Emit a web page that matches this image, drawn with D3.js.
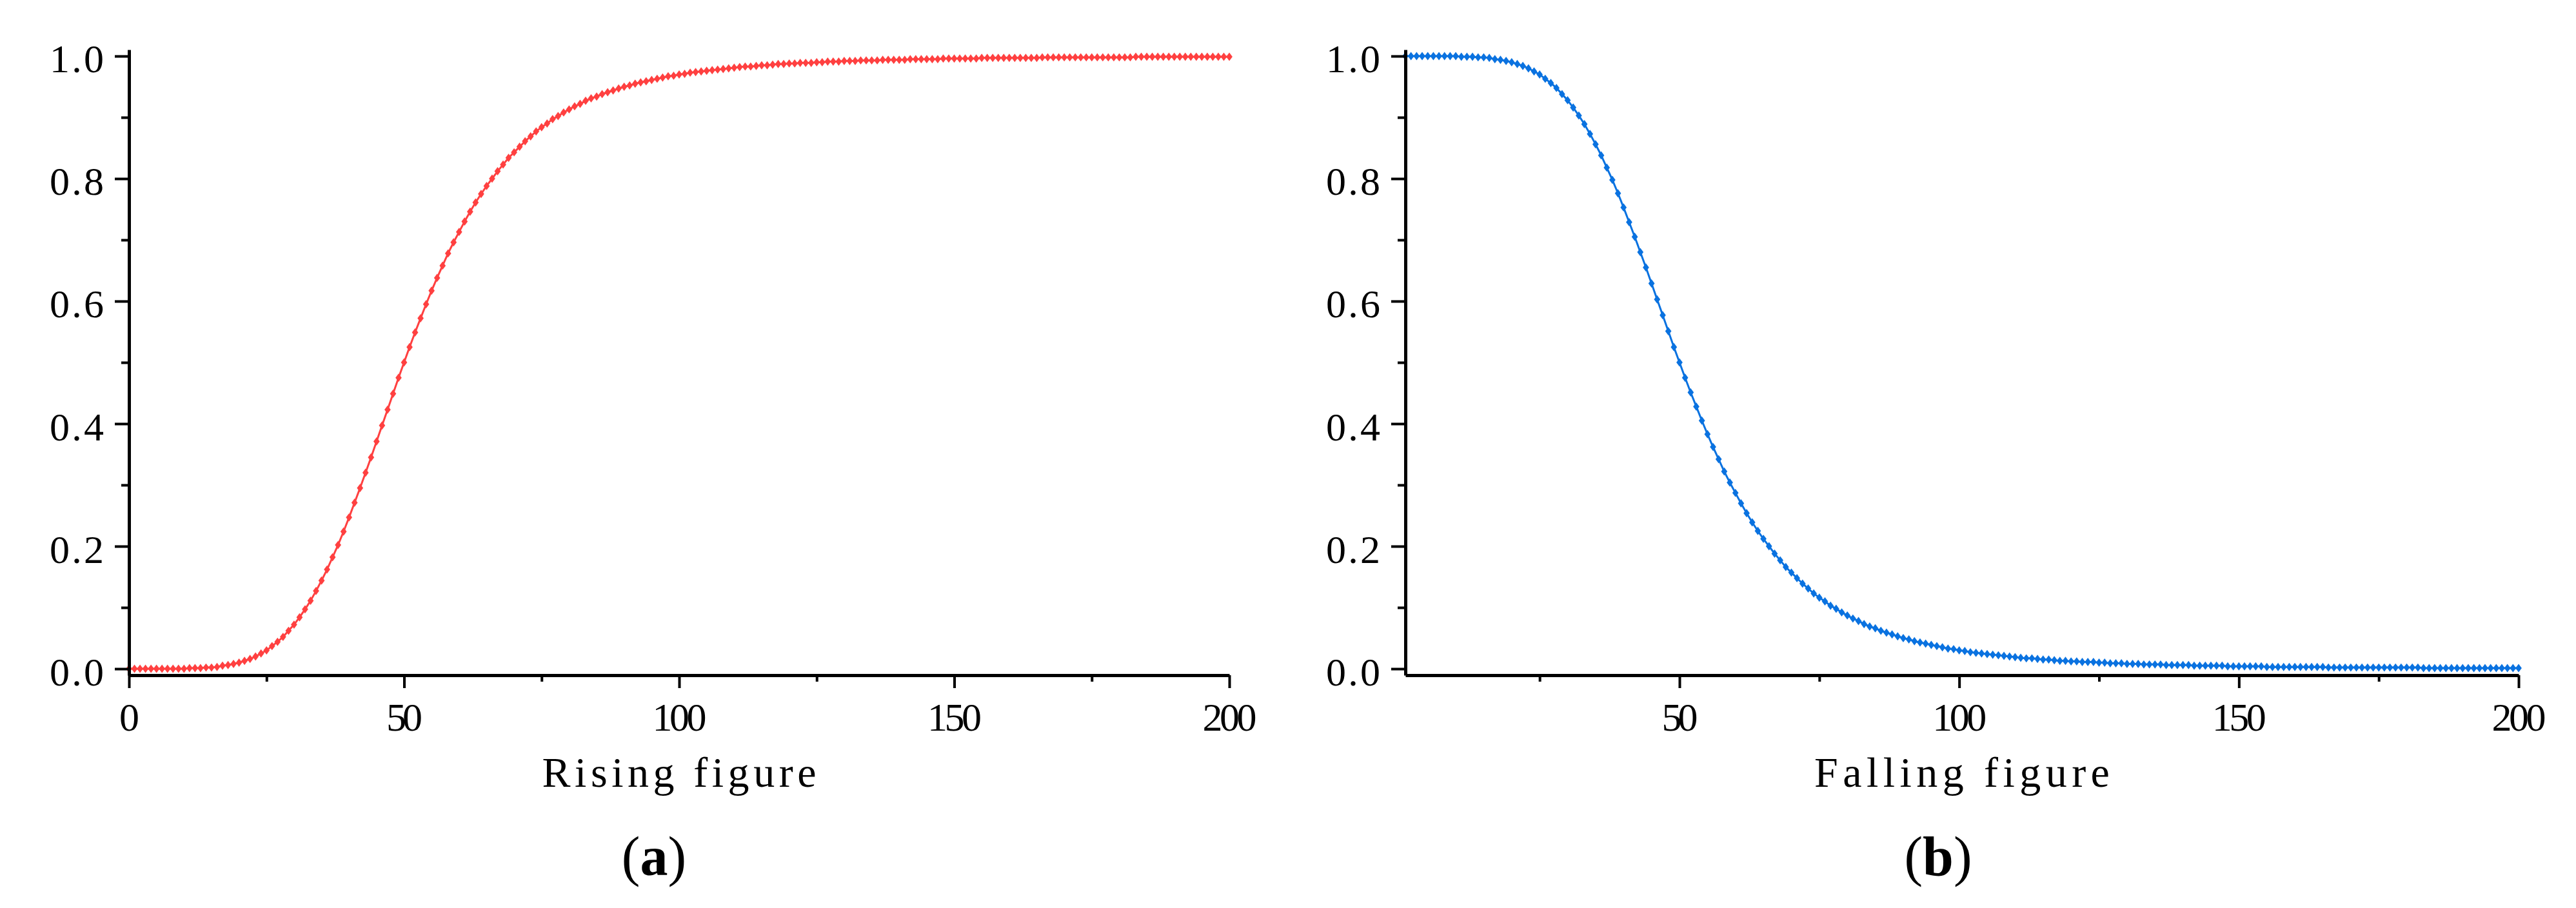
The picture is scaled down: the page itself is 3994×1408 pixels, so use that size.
<!DOCTYPE html>
<html>
<head>
<meta charset="utf-8">
<script src="https://cdn.jsdelivr.net/npm/d3@7"></script>
<style>
  body { margin: 0; background: #fff; }
  text { font-family: "Liberation Serif", "DejaVu Serif", serif; fill: #000; }
</style>
</head>
<body>
<svg class="figsvg" width="3994" height="1408"></svg>
<script>
// rising curve, read at every x from 0 to 200
var risingX = d3.range(0, 201);
var risingY = [
 0.000,0.000,0.000,0.000,0.000,0.000,0.000,0.000,0.000,0.000,0.000,
 0.001,0.001,0.001,0.002,0.002,0.003,0.005,0.006,0.008,0.010,
 0.013,0.016,0.020,0.025,0.030,0.037,0.044,0.052,0.062,0.072,
 0.084,0.097,0.111,0.127,0.144,0.162,0.182,0.202,0.224,0.247,
 0.271,0.295,0.320,0.345,0.371,0.397,0.423,0.449,0.475,0.500,
 0.525,0.549,0.572,0.595,0.617,0.638,0.658,0.678,0.696,0.713,
 0.730,0.746,0.761,0.775,0.788,0.800,0.812,0.823,0.834,0.843,
 0.852,0.861,0.869,0.877,0.884,0.890,0.897,0.902,0.908,0.913,
 0.918,0.922,0.927,0.931,0.934,0.938,0.941,0.944,0.947,0.950,
 0.952,0.955,0.957,0.959,0.961,0.963,0.965,0.967,0.968,0.970,
 0.971,0.973,0.974,0.975,0.976,0.977,0.978,0.979,0.980,0.981,
 0.982,0.983,0.983,0.984,0.985,0.985,0.986,0.987,0.987,0.988,
 0.988,0.989,0.989,0.989,0.990,0.990,0.991,0.991,0.991,0.992,
 0.992,0.992,0.993,0.993,0.993,0.993,0.994,0.994,0.994,0.994,
 0.994,0.995,0.995,0.995,0.995,0.995,0.995,0.996,0.996,0.996,
 0.996,0.996,0.996,0.996,0.997,0.997,0.997,0.997,0.997,0.997,
 0.997,0.997,0.997,0.997,0.997,0.998,0.998,0.998,0.998,0.998,
 0.998,0.998,0.998,0.998,0.998,0.998,0.998,0.998,0.998,0.998,
 0.998,0.998,0.999,0.999,0.999,0.999,0.999,0.999,0.999,0.999,
 0.999,0.999,0.999,0.999,0.999,0.999,0.999,0.999,0.999,0.999
];

// falling curve, read at every x from 1 to 200
var fallingX = d3.range(1, 201);
var fallingY = [
 1.000,1.000,1.000,1.000,1.000,1.000,1.000,1.000,1.000,1.000,
 0.999,0.999,0.999,0.998,0.998,0.997,0.995,0.994,0.992,0.990,
 0.987,0.984,0.980,0.975,0.970,0.963,0.956,0.948,0.938,0.928,
 0.916,0.903,0.889,0.873,0.856,0.838,0.818,0.798,0.776,0.753,
 0.729,0.705,0.680,0.655,0.629,0.603,0.577,0.551,0.525,0.500,
 0.475,0.451,0.428,0.405,0.383,0.362,0.342,0.322,0.304,0.287,
 0.270,0.254,0.239,0.225,0.212,0.200,0.188,0.177,0.166,0.157,
 0.148,0.139,0.131,0.123,0.116,0.110,0.103,0.098,0.092,0.087,
 0.082,0.078,0.073,0.069,0.066,0.062,0.059,0.056,0.053,0.050,
 0.048,0.045,0.043,0.041,0.039,0.037,0.035,0.033,0.032,0.030,
 0.029,0.027,0.026,0.025,0.024,0.023,0.022,0.021,0.020,0.019,
 0.018,0.017,0.017,0.016,0.015,0.015,0.014,0.013,0.013,0.012,
 0.012,0.011,0.011,0.011,0.010,0.010,0.009,0.009,0.009,0.008,
 0.008,0.008,0.007,0.007,0.007,0.007,0.006,0.006,0.006,0.006,
 0.006,0.005,0.005,0.005,0.005,0.005,0.005,0.004,0.004,0.004,
 0.004,0.004,0.004,0.004,0.003,0.003,0.003,0.003,0.003,0.003,
 0.003,0.003,0.003,0.003,0.003,0.002,0.002,0.002,0.002,0.002,
 0.002,0.002,0.002,0.002,0.002,0.002,0.002,0.002,0.002,0.002,
 0.002,0.002,0.001,0.001,0.001,0.001,0.001,0.001,0.001,0.001,
 0.001,0.001,0.001,0.001,0.001,0.001,0.001,0.001,0.001,0.001
];

var yTicks = [0, 0.2, 0.4, 0.6, 0.8, 1.0];
var yMinor = [0.1, 0.3, 0.5, 0.7, 0.9];
var xTicksA = [0, 50, 100, 150, 200];
var xTicksB = [50, 100, 150, 200];
var xMinor = [25, 75, 125, 175];

var svg = d3.select(".figsvg");

// tall, narrow diamond marker
var diamond = {
	draw: function(ctx, size) {
		var h = Math.sqrt(size / 1.5), w = h * 0.75;
		ctx.moveTo(0, -h);
		ctx.lineTo(w, 0);
		ctx.lineTo(0, h);
		ctx.lineTo(-w, 0);
		ctx.closePath();
	}
};

function drawpanel(opt)
{
	var x = d3.scaleLinear().domain(opt.xdomain).range(opt.xrange);
	var y = d3.scaleLinear().domain([-0.0105, 1.0105]).range([1047, 77]);
	var g = svg.append("g").attr("class", "panel");

	// curve + markers
	var pts = opt.xs.map(function(d, i) { return [d, opt.ys[i]]; });
	g.append("path")
		.datum(pts)
		.attr("fill", "none")
		.attr("stroke", opt.color)
		.attr("stroke-width", 3)
		.attr("d", d3.line().x(function(d) { return x(d[0]); }).y(function(d) { return y(d[1]); }));
	g.selectAll(".mk")
		.data(pts)
		.enter().append("path")
		.attr("class", "mk")
		.attr("fill", opt.color)
		.attr("transform", function(d) { return "translate(" + x(d[0]) + "," + y(d[1]) + ")"; })
		.attr("d", d3.symbol().type(diamond).size(63));

	// minor ticks
	var ym = g.append("g")
		.attr("transform", "translate(" + opt.xrange[0] + ",0)")
		.call(d3.axisLeft(y).tickValues(yMinor).tickSize(12).tickFormat(""));
	ym.select(".domain").remove();
	var xm = g.append("g")
		.attr("transform", "translate(0,1047)")
		.call(d3.axisBottom(x).tickValues(xMinor).tickSize(10).tickFormat(""));
	xm.select(".domain").remove();

	// y axis
	var ya = g.append("g")
		.attr("class", "yaxis")
		.attr("transform", "translate(" + opt.xrange[0] + ",0)")
		.call(d3.axisLeft(y).tickValues(yTicks).tickSize(22).tickSizeOuter(0).tickPadding(17).tickFormat(d3.format(".1f")));
	ya.selectAll("text")
		.attr("dy", 0)
		.attr("y", 25)
		.attr("textLength", 84)
		.attr("lengthAdjust", "spacing");

	// x axis
	var xa = g.append("g")
		.attr("class", "xaxis")
		.attr("transform", "translate(0,1047)")
		.call(d3.axisBottom(x).tickValues(opt.xticks).tickSize(20).tickSizeOuter(0));
	xa.selectAll("text")
		.attr("dy", 0)
		.attr("y", 86)
		.attr("textLength", function(d) { return String(d).length * 28; })
		.attr("lengthAdjust", "spacing");

	g.selectAll(".domain").attr("stroke-width", 5).attr("stroke", "#000");
	g.selectAll(".tick line").attr("stroke-width", 4).attr("stroke", "#000");
	g.selectAll(".tick text").style("font-size", "62px").style("font-family", "Liberation Serif");

	// axis title
	var cx = (opt.xrange[0] + opt.xrange[1]) / 2;
	g.append("text")
		.attr("x", cx)
		.attr("y", 1220)
		.attr("text-anchor", "middle")
		.attr("textLength", opt.title.length * 32.7)
		.attr("lengthAdjust", "spacing")
		.style("font-size", "66px")
		.text(opt.title);

	// sub-caption
	var cap = g.append("text")
		.attr("x", opt.capx)
		.attr("y", 1357)
		.attr("text-anchor", "middle")
		.style("font-size", "86px");
	cap.append("tspan").text("(");
	cap.append("tspan").style("font-weight", "bold").text(opt.cap);
	cap.append("tspan").text(")");
}

drawpanel({
	xs: risingX, ys: risingY, color: "#ff4040",
	xdomain: [0, 200], xrange: [200, 1906], xticks: xTicksA,
	title: "Rising figure", cap: "a", capx: 1014
});

drawpanel({
	xs: fallingX, ys: fallingY, color: "#0a72e0",
	xdomain: [1, 200], xrange: [2179, 3905], xticks: xTicksB,
	title: "Falling figure", cap: "b", capx: 3005
});
</script>
</body>
</html>
